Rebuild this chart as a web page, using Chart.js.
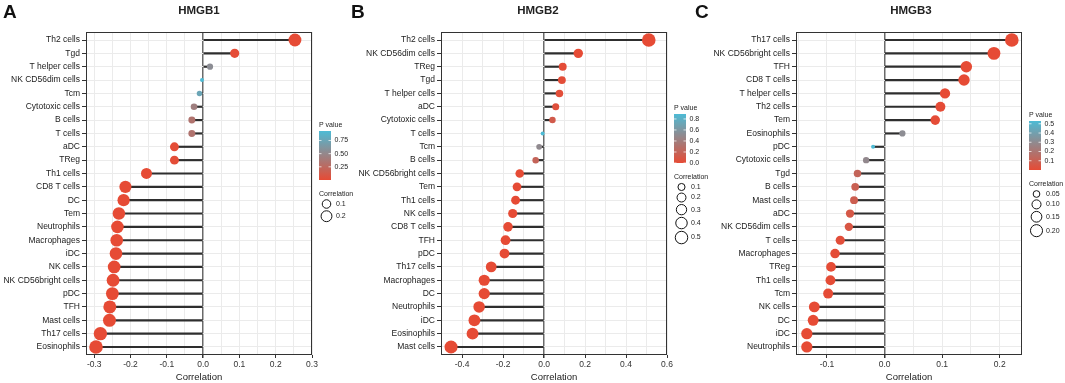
<!DOCTYPE html>
<html>
<head>
<meta charset="utf-8">
<script src="https://cdn.jsdelivr.net/npm/chart.js@4.4.1/dist/chart.umd.min.js"></script>
<style>
body{margin:0;background:#fff;width:1065px;height:383px;overflow:hidden;position:relative;font-family:"Liberation Sans",Arial,sans-serif}
canvas{position:absolute;top:0}
.letter{position:absolute;top:2px;font-weight:bold;font-size:19px;line-height:1;color:#111}
.title{position:absolute;top:5px;font-weight:bold;font-size:11.5px;line-height:1;color:#222;transform:translateX(-50%);white-space:nowrap}
</style>
</head>
<body>
<canvas id="chartA" width="355" height="383" style="left:0"></canvas>
<canvas id="chartB" width="355" height="383" style="left:355px"></canvas>
<canvas id="chartC" width="355" height="383" style="left:710px"></canvas>
<div class="letter" style="left:3px">A</div>
<div class="letter" style="left:351px">B</div>
<div class="letter" style="left:695px">C</div>
<div class="title" style="left:199px">HMGB1</div>
<div class="title" style="left:538px">HMGB2</div>
<div class="title" style="left:911px">HMGB3</div>
<script>
// HMGB1
var cellsA = ['Th2 cells','Tgd','T helper cells','NK CD56dim cells','Tcm','Cytotoxic cells','B cells','T cells','aDC','TReg','Th1 cells','CD8 T cells','DC','Tem','Neutrophils','Macrophages','iDC','NK cells','NK CD56bright cells','pDC','TFH','Mast cells','Th17 cells','Eosinophils']
var corrA = [0.253,0.087,0.019,-0.003,-0.010,-0.025,-0.031,-0.031,-0.079,-0.079,-0.156,-0.214,-0.219,-0.232,-0.236,-0.238,-0.240,-0.245,-0.248,-0.250,-0.257,-0.258,-0.283,-0.295]
var pvalA = [0,0.006,0.55,0.93,0.75,0.43,0.33,0.33,0.013,0.013,0,0,0,0,0,0,0,0,0,0,0,0,0,0]
var xTicksA = [-0.3,-0.2,-0.1,0,0.1,0.2,0.3]
var pLabelsA = ['0.25','0.50','0.75']
var sizeLabelsA = ['0.1','0.2']

// HMGB2
var cellsB = ['Th2 cells','NK CD56dim cells','TReg','Tgd','T helper cells','aDC','Cytotoxic cells','T cells','Tcm','B cells','NK CD56bright cells','Tem','Th1 cells','NK cells','CD8 T cells','TFH','pDC','Th17 cells','Macrophages','DC','Neutrophils','iDC','Eosinophils','Mast cells']
var corrB = [0.511,0.167,0.091,0.087,0.075,0.057,0.041,-0.007,-0.024,-0.041,-0.119,-0.132,-0.139,-0.153,-0.176,-0.188,-0.193,-0.258,-0.292,-0.292,-0.317,-0.340,-0.349,-0.454]
var pvalB = [0,0,0.01,0.015,0.02,0.04,0.12,0.89,0.5,0.2,0,0,0,0,0,0,0,0,0,0,0,0,0,0]
var xTicksB = [-0.4,-0.2,0,0.2,0.4,0.6]
var pLabelsB = ['0.0','0.2','0.4','0.6','0.8']
var sizeLabelsB = ['0.1','0.2','0.3','0.4','0.5']

// HMGB3
var cellsC = ['Th17 cells','NK CD56bright cells','TFH','CD8 T cells','T helper cells','Th2 cells','Tem','Eosinophils','pDC','Cytotoxic cells','Tgd','B cells','Mast cells','aDC','NK CD56dim cells','T cells','Macrophages','TReg','Th1 cells','Tcm','NK cells','DC','iDC','Neutrophils']
var corrC = [0.221,0.190,0.142,0.138,0.105,0.097,0.088,0.031,-0.020,-0.032,-0.047,-0.051,-0.053,-0.060,-0.062,-0.077,-0.086,-0.093,-0.094,-0.098,-0.122,-0.124,-0.135,-0.135]
var pvalC = [0,0,0,0,0.001,0.002,0.005,0.31,0.53,0.29,0.12,0.1,0.09,0.06,0.05,0.015,0.007,0.003,0.003,0.002,0,0,0,0]
var xTicksC = [-0.1,0,0.1,0.2]
var pLabelsC = ['0.1','0.2','0.3','0.4','0.5']
var sizeLabelsC = ['0.05','0.10','0.15','0.20']

var FONT = '"Liberation Sans", Arial, sans-serif'
Chart.defaults.font.family = FONT

var LOW = [230,75,53], HIGH = [77,187,213]
function pColor(p, dom){
    var t = (p - dom[0]) / (dom[1] - dom[0])
    t = Math.max(0, Math.min(1, t))
    var c = LOW.map(function(v,k){ return Math.round(v + (HIGH[k]-v)*t) })
    return 'rgb('+c.join(',')+')'
}

function makePanel(id, cats, corr, pval, xMin, xMax, xTicks, minorStep, pLabels, sizeLabels, legTop){
    var n = cats.length
    var pDom = [Math.min.apply(null,pval), Math.max.apply(null,pval)]
    var abs = corr.map(Math.abs)
    var sDom = [Math.min.apply(null,abs), Math.max.apply(null,abs)]
    function diam(v){ return 4 + 9.6*Math.sqrt(Math.max(0,(v-sDom[0])/(sDom[1]-sDom[0]))) }
    function isMajor(v){ return xTicks.some(function(m){ return Math.abs(m-v) < 1e-9 }) }

    // grid positions: majors plus half-way minors inside the range
    var xAll = xTicks.slice()
    xTicks.forEach(function(m){
        [m - minorStep, m + minorStep].forEach(function(v){
            if(v >= xMin && v <= xMax && !xAll.some(function(a){ return Math.abs(a-v) < 1e-9 })) xAll.push(v)
        })
    })
    xAll.sort(function(a,b){ return a-b })

    var frame = {
        id:'frame',
        afterDraw:function(chart){
            var ctx = chart.ctx, a = chart.chartArea
            ctx.save()
            ctx.strokeStyle = '#333'
            ctx.lineWidth = 1
            ctx.strokeRect(Math.round(a.left)+0.5, Math.round(a.top)+0.5, Math.round(a.right-a.left)-1, Math.round(a.bottom-a.top)-1)

            // P value colourbar
            var left = a.right + 7
            var barTop = legTop + 6, barH = 49, barW = 12
            ctx.fillStyle = '#222'
            ctx.font = '7px ' + FONT
            ctx.textBaseline = 'middle'
            ctx.textAlign = 'left'
            ctx.fillText('P value', left, legTop)
            var g = ctx.createLinearGradient(0, barTop+barH, 0, barTop)
            for(var s=0; s<=40; s++){
                g.addColorStop(s/40, pColor(pDom[0] + (pDom[1]-pDom[0])*s/40, pDom))
            }
            ctx.fillStyle = g
            ctx.fillRect(left, barTop, barW, barH)
            ctx.strokeStyle = 'rgba(255,255,255,0.9)'
            ctx.lineWidth = 0.8
            pLabels.forEach(function(lab){
                var v = parseFloat(lab)
                var y = barTop + barH - (v - pDom[0])/(pDom[1]-pDom[0])*barH
                ctx.beginPath()
                ctx.moveTo(left, y); ctx.lineTo(left+2.5, y)
                ctx.moveTo(left+barW-2.5, y); ctx.lineTo(left+barW, y)
                ctx.stroke()
                ctx.fillStyle = '#222'
                ctx.fillText(lab, left+barW+3.5, y)
            })

            // Correlation size keys
            var ty = barTop + barH + 14
            ctx.fillStyle = '#222'
            ctx.fillText('Correlation', left, ty)
            var cy = ty + 10, prev = null
            ctx.strokeStyle = '#111'
            ctx.lineWidth = 1
            sizeLabels.forEach(function(lab){
                var d = diam(parseFloat(lab))
                if(prev !== null) cy += prev/2 + d/2 + 1.5
                ctx.beginPath()
                ctx.arc(left+7.5, cy, d/2-0.5, 0, Math.PI*2)
                ctx.stroke()
                ctx.fillStyle = '#222'
                ctx.fillText(lab, left+17, cy)
                prev = d
            })
            ctx.restore()
        }
    }

    return new Chart(document.getElementById(id), {
        type:'scatter',
        data:{
            datasets:[{
                type:'scatter',
                order:0,
                data:corr.map(function(v,i){ return {x:v, y:i} }),
                pointRadius:function(c){ return diam(Math.abs(c.raw.x))/2 },
                pointBackgroundColor:function(c){ return pColor(pval[c.dataIndex], pDom) },
                pointBorderWidth:0,
                pointHoverRadius:function(c){ return diam(Math.abs(c.raw.x))/2 }
            },{
                type:'bar',
                order:1,
                indexAxis:'y',
                data:corr.map(function(v,i){ return {x:[0,v], y:i} }),
                backgroundColor:'#2e2e2e',
                borderWidth:0,
                barThickness:1.5
            }]
        },
        options:{
            responsive:false,
            animation:false,
            events:[],
            layout:{padding:{top:32, right:43, left:0, bottom:0}},
            plugins:{legend:{display:false}, tooltip:{enabled:false}},
            scales:{
                x:{
                    type:'linear', min:xMin, max:xMax, offset:false,
                    afterBuildTicks:function(s){ s.ticks = xAll.map(function(v){ return {value:v} }) },
                    afterFit:function(s){ s.height = 28 },
                    border:{display:false},
                    grid:{
                        offset:false,
                        color:function(c){ return c.tick && Math.abs(c.tick.value) < 1e-9 ? '#6a6a6a' : '#ebebeb' },
                        lineWidth:function(c){ return c.tick && Math.abs(c.tick.value) < 1e-9 ? 1.5 : 1 },
                        tickColor:function(c){ return c.tick && isMajor(c.tick.value) ? '#333' : 'rgba(0,0,0,0)' },
                        tickLength:3
                    },
                    ticks:{
                        autoSkip:false, maxRotation:0, padding:2, color:'#333', font:{size:8.5},
                        callback:function(v){ return isMajor(v) ? v.toFixed(1) : '' }
                    },
                    title:{display:true, text:'Correlation', color:'#222', font:{size:9.5}, padding:{top:0, bottom:0}}
                },
                y:{
                    type:'linear', reverse:true, min:-0.6, max:n-0.4, offset:false,
                    afterBuildTicks:function(s){ s.ticks = cats.map(function(c,i){ return {value:i} }) },
                    afterFit:function(s){ s.width = 86 },
                    border:{display:false},
                    grid:{offset:false, color:'#ebebeb', lineWidth:1, tickColor:'#333', tickLength:4},
                    ticks:{autoSkip:false, padding:2, color:'#222', font:{size:8.5},
                        callback:function(v){ return cats[v] }
                    }
                }
            }
        },
        plugins:[frame]
    })
}

makePanel('chartA', cellsA, corrA, pvalA, -0.3226, 0.3, xTicksA, 0.05, pLabelsA, sizeLabelsA, 125)
makePanel('chartB', cellsB, corrB, pvalB, -0.503, 0.6, xTicksB, 0.1, pLabelsB, sizeLabelsB, 108)
makePanel('chartC', cellsC, corrC, pvalC, -0.1538, 0.2387, xTicksC, 0.05, pLabelsC, sizeLabelsC, 115)
</script>
</body>
</html>
